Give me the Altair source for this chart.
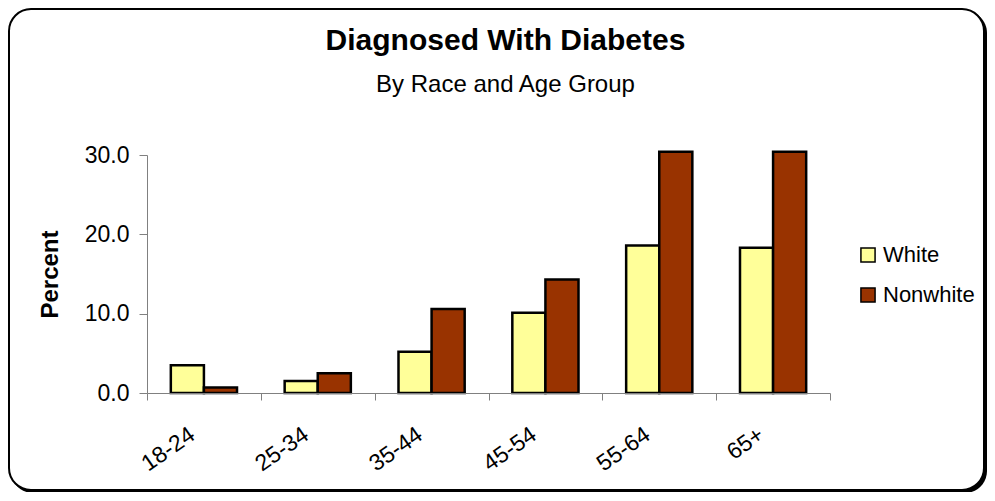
import altair as alt
import pandas as pd

age_groups = ["18-24", "25-34", "35-44", "45-54", "55-64", "65+"]
white = [3.5, 1.5, 5.2, 10.1, 18.6, 18.3]
nonwhite = [0.7, 2.5, 10.6, 14.3, 30.4, 30.4]
races = ["White", "Nonwhite"]
colors = ["#FFFF99", "#993300"]
y_ticks = [0, 10, 20, 30]

rows = []
for i, a in enumerate(age_groups):
    rows.append({"Age": a, "Race": "White", "Percent": white[i]})
    rows.append({"Age": a, "Race": "Nonwhite", "Percent": nonwhite[i]})
df = pd.DataFrame(rows)

FONT = "Liberation Sans"
W, H = 683, 238

frame_df = pd.DataFrame({"k": [0]})
shadow = alt.Chart(frame_df).mark_rect(fill="#000000", cornerRadius=22).encode(
    x=alt.value(-136), x2=alt.value(840), y=alt.value(-144), y2=alt.value(338)
)
frame = alt.Chart(frame_df).mark_rect(
    fill="white", stroke="black", strokeWidth=2, cornerRadius=22
).encode(x=alt.value(-138), x2=alt.value(837), y=alt.value(-146), y2=alt.value(335))

bars = alt.Chart(df).mark_bar(stroke="black", strokeWidth=2.5).encode(
    x=alt.X(
        "Age:N",
        sort=age_groups,
        scale=alt.Scale(paddingInner=0, paddingOuter=0),
        axis=alt.Axis(
            title=None,
            labelAngle=325,
            labelAlign="right",
            labelBaseline="middle",
            labelFontSize=23,
            labelPadding=32,
            labelOffset=-12,
            tickBand="extent",
            tickSize=7,
            domainColor="#808080",
            tickColor="#808080",
            labelColor="black",
            labelFont=FONT,
            zindex=2,
        ),
    ),
    xOffset=alt.XOffset(
        "Race:N", sort=races, scale=alt.Scale(paddingOuter=0.72, paddingInner=0)
    ),
    y=alt.Y(
        "Percent:Q",
        scale=alt.Scale(domain=[0, 30], nice=False),
        axis=alt.Axis(
            values=y_ticks,
            format=".1f",
            grid=False,
            tickSize=8,
            labelPadding=10,
            labelFontSize=23,
            labelFont=FONT,
            labelColor="black",
            domainColor="#808080",
            tickColor="#808080",
            title="Percent",
            titleFont=FONT,
            titleFontSize=24,
            titleFontWeight="bold",
            titleColor="black",
            titleAngle=270,
            titleX=-97,
            titleY=H / 2,
            titleAlign="center",
            titleBaseline="middle",
            zindex=2,
        ),
    ),
    color=alt.Color(
        "Race:N",
        sort=races,
        scale=alt.Scale(domain=races, range=colors),
        legend=alt.Legend(
            title=None,
            orient="none",
            legendX=710,
            legendY=89,
            symbolType="square",
            symbolSize=200,
            symbolStrokeColor="black",
            symbolStrokeWidth=1.5,
            labelFont=FONT,
            labelFontSize=22,
            labelColor="black",
            rowPadding=18,
            labelOffset=4,
            padding=0,
            zindex=2,
        ),
    ),
)

chart = alt.layer(shadow, frame, bars).properties(
    width=W,
    height=H,
    autosize=alt.AutoSizeParams(type="none"),
    padding={"left": 139, "top": 147, "right": 157, "bottom": 99},
    title=alt.Title(
        "Diagnosed With Diabetes",
        subtitle="By Race and Age Group",
        anchor="middle",
        frame="group",
        dx=17,
        offset=-89,
        font=FONT,
        fontSize=30,
        fontWeight="bold",
        color="black",
        subtitleFont=FONT,
        subtitleFontSize=24,
        subtitleColor="black",
        subtitlePadding=17,
        zindex=2,
    ),
).configure_view(stroke=None).configure(background="white")

chart.save("out.html", embed_options={"renderer": "svg", "actions": False})
